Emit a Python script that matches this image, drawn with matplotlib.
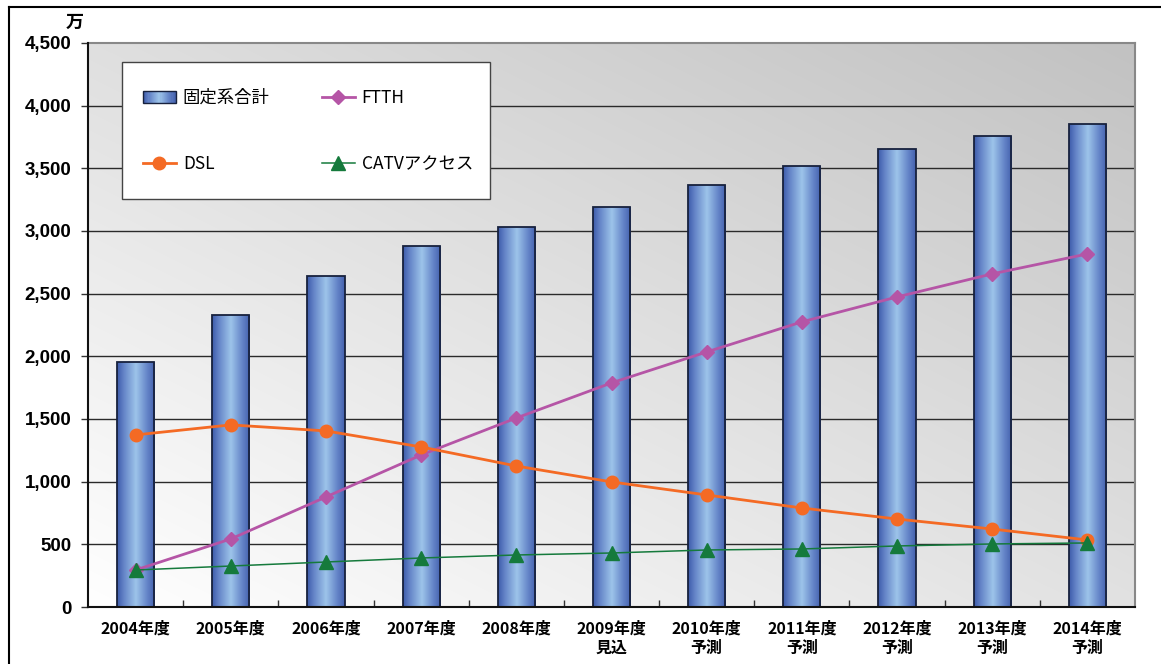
import matplotlib
matplotlib.use("Agg")
import matplotlib.pyplot as plt
import numpy as np
from matplotlib.patches import Rectangle
from matplotlib.lines import Line2D
from matplotlib.legend_handler import HandlerBase
from matplotlib.colors import LinearSegmentedColormap

# ---- data ----
categories = ["2004年度", "2005年度", "2006年度", "2007年度", "2008年度", "2009年度\n見込",
              "2010年度\n予測", "2011年度\n予測", "2012年度\n予測", "2013年度\n予測", "2014年度\n予測"]
fixed_total = [1955, 2330, 2641, 2881, 3032, 3192, 3368, 3519, 3655, 3759, 3855]
ftth = [295, 543, 878, 1213, 1508, 1788, 2035, 2275, 2474, 2658, 2817]
dsl = [1373, 1453, 1405, 1277, 1125, 998, 894, 790, 702, 622, 535]
catv = [295, 327, 359, 391, 415, 431, 455, 463, 487, 503, 511]
yticks = [0, 500, 1000, 1500, 2000, 2500, 3000, 3500, 4000, 4500]
labels = ["固定系合計", "DSL", "FTTH", "CATVアクセス"]

CJK = ["Noto Sans CJK JP", "DejaVu Sans"]
bar_cmap = LinearSegmentedColormap.from_list(
    "bar", [(0.0, "#3e5cab"), (0.18, "#6585c8"), (0.5, "#9dc4ea"), (0.8, "#6585c8"), (1.0, "#4461ae")])

fig = plt.figure(figsize=(11.61, 6.64), dpi=100)
fig.patch.set_facecolor("white")
W, H = 1161, 664
ax = fig.add_axes([88 / W, 1 - 607 / H, (1135 - 88) / W, (607 - 43) / H])

x = np.arange(len(categories))
ax.set_xlim(-0.5, len(categories) - 0.5)
ax.set_ylim(0, 4500)

# background gradient
u = np.linspace(0, 1, 300)
w = np.linspace(0, 1, 200)
U, Wg = np.meshgrid(u, w)
bg = np.clip(1 - 0.115 * U - 0.125 * Wg, 0, 1)
ax.imshow(np.dstack([bg, bg, bg]), extent=[0, 1, 0, 1], transform=ax.transAxes,
          origin="lower", aspect="auto", zorder=0, interpolation="bilinear")
ax.set_facecolor("white")

# grid
for yv in yticks[1:-1]:
    ax.axhline(yv, color="#2a2a2a", lw=1.0, zorder=1)

# bars
bars = ax.bar(x, fixed_total, width=0.39, facecolor="none", edgecolor="#17213d",
              linewidth=1.3, zorder=3)
grad = np.linspace(0, 1, 100).reshape(1, -1)
for b in bars:
    x0, y0 = b.get_x(), b.get_y()
    im = ax.imshow(grad, cmap=bar_cmap, extent=[x0, x0 + b.get_width(), y0, y0 + b.get_height()],
                   aspect="auto", zorder=2.5, interpolation="bilinear")
    im.set_clip_path(b)
ax.set_xlim(-0.5, len(categories) - 0.5)
ax.set_ylim(0, 4500)

# lines
l_ftth, = ax.plot(x, ftth, color="#b555a6", lw=2.0, marker="D", markersize=7, zorder=4)
l_dsl, = ax.plot(x, dsl, color="#f46a24", lw=2.0, marker="o", markersize=9, zorder=5)
l_catv, = ax.plot(x, catv, color="#157a3c", lw=1.1, marker="^", markersize=10, zorder=6)

# axes styling
ax.set_yticks(yticks)
ax.set_yticklabels([f"{v:,}" for v in yticks], family=["Liberation Sans", "DejaVu Sans"],
                   fontsize=13.5, weight="bold")
ax.tick_params(axis="y", direction="out", length=5, width=1, color="#333", pad=7)
ax.set_xticks(x)
ax.set_xticklabels(categories, family=CJK, fontsize=11.5, weight="bold", linespacing=1.25)
ax.tick_params(axis="x", length=0, pad=10)
ax.set_xticks(np.arange(0.5, len(categories) - 1, 1), minor=True)
ax.tick_params(axis="x", which="minor", direction="in", length=5, width=1, color="#333")
for s in ["left", "bottom"]:
    ax.spines[s].set_color("#111")
    ax.spines[s].set_linewidth(1.5)
for s in ["top", "right"]:
    ax.spines[s].set_color("#888")
    ax.spines[s].set_linewidth(1.5)
ax.spines["left"].set_zorder(7)
ax.spines["bottom"].set_zorder(7)

# unit label
fig.text(75 / W, 1 - 22 / H, "万", ha="center", va="center", fontsize=13, weight="bold", family=CJK)

# outer frame
fig.add_artist(Line2D([9 / W, 1.0], [1 - 7 / H, 1 - 7 / H], color="black", lw=1.5, transform=fig.transFigure))
fig.add_artist(Line2D([9 / W, 9 / W], [1 - 7 / H, 0], color="black", lw=1.5, transform=fig.transFigure))

# legend
class GradHandler(HandlerBase):
    def create_artists(self, legend, orig_handle, xdescent, ydescent, width, height, fontsize, trans):
        n = 30
        arts = []
        for i in range(n):
            arts.append(Rectangle((-xdescent + i * width / n, -ydescent), width / n + 0.3, height,
                                  facecolor=bar_cmap(i / (n - 1)), edgecolor="none", transform=trans))
        arts.append(Rectangle((-xdescent, -ydescent), width, height, facecolor="none",
                              edgecolor="#17213d", lw=1.0, transform=trans))
        return arts

bar_proxy = Rectangle((0, 0), 1, 1)
leg_box = Rectangle((122 / W, 1 - 199 / H), (490 - 122) / W, (199 - 62) / H, transform=fig.transFigure,
                    facecolor="white", edgecolor="#444", lw=1.0, zorder=8)
fig.add_artist(leg_box)
leg = fig.legend([bar_proxy, l_dsl, l_ftth, l_catv], labels, ncol=2, loc="center",
                 bbox_to_anchor=(308 / W, 1 - 131 / H), bbox_transform=fig.transFigure,
                 frameon=False, prop={"family": CJK, "size": 12.5},
                 handlelength=1.9, handletextpad=0.4, columnspacing=3.0, labelspacing=2.8,
                 handler_map={Rectangle: GradHandler()})
leg.set_zorder(9)

fig.savefig("out.png", dpi=100)
